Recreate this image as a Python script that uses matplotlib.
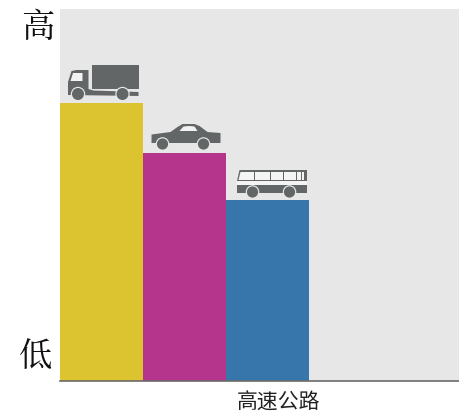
import matplotlib
matplotlib.use('Agg')
from matplotlib import pyplot as plt
from matplotlib.patches import Circle, Polygon, Rectangle
from matplotlib.transforms import Affine2D

plt.rcParams['font.family'] = ['Noto Sans CJK SC', 'DejaVu Sans']

vehicles = ['truck', 'car', 'bus']
levels = [278, 228, 181]
bar_colors = ['#dcc430', '#b6358c', '#3776ab']
x_label = '高速公路'
high_label = '高'
low_label = '低'

GREY = '#636667'
BG = '#e7e7e8'
W, H = 459, 412

fig = plt.figure(figsize=(W / 100, H / 100), dpi=100)
ax = fig.add_axes([60 / W, 1 - 381 / H, 399 / W, 372 / H])
ax.set_facecolor(BG)

positions = list(range(len(levels)))
ax.bar(positions, levels, width=1.0, color=bar_colors, zorder=2)
ax.set_xlim(-0.5, 4.307)
ax.set_ylim(0, 372)

for side in ['top', 'right', 'left']:
    ax.spines[side].set_visible(False)
ax.spines['bottom'].set_color('#6b6b6b')
ax.spines['bottom'].set_linewidth(1.2)
ax.set_yticks([])
ax.set_xticks([])

fig.text(278.5 / W, 1 - 402.5 / H, x_label, fontsize=15, color='#222222', ha='center', va='center')
fig.text(38 / W, 1 - 28 / H, high_label, fontsize=24, color='#111111', ha='center', va='center',
         family=['Noto Serif CJK SC', 'Noto Sans CJK SC', 'DejaVu Sans'])
fig.text(36 / W, 1 - 357 / H, low_label, fontsize=24, color='#111111', ha='center', va='center',
         family=['Noto Serif CJK SC', 'Noto Sans CJK SC', 'DejaVu Sans'])


# icon shapes are in pixels, relative to the top centre of their bar, y pointing down
def add_icon(shapes, x, y):
    ox, oy = ax.transData.transform((x, y))
    tr = Affine2D().scale(1, -1).translate(ox, oy)
    for s in shapes:
        s.set_transform(tr)
        s.set_zorder(3)
        s.set_linewidth(0)
        s.set_clip_on(False)
        ax.add_artist(s)


def truck():
    return [
        Rectangle((-10, -38.5), 47, 24.5, fc=GREY),
        Polygon([(-33.5, -8), (-33.5, -21), (-30, -32), (-25, -33), (-13, -33), (-13, -14), (-8, -12.5),
                 (37, -11), (37, -7), (-33.5, -8)], fc=GREY),
        Polygon([(-31, -22), (-28.5, -30), (-19, -30), (-19, -22)], fc='#f2f2f2'),
        Circle((-23.5, -9), 7.2, fc=BG),
        Circle((21, -9), 7.2, fc=BG),
        Circle((-23.5, -9), 6, fc=GREY),
        Circle((21, -9), 6, fc=GREY),
    ]


def car():
    return [
        Polygon([(-33, -10), (-33, -18.5), (-14, -21), (-7, -26), (-2, -29), (10, -29), (15, -27),
                 (23, -21), (36, -20), (36, -10)], fc=GREY),
        Polygon([(-5, -22), (-1, -26.5), (5, -27), (10, -26.5), (13, -22)], fc='#f2f2f2'),
        Circle((-22, -9), 6.8, fc=BG),
        Circle((19, -9), 6.8, fc=BG),
        Circle((-22, -9), 5.6, fc=GREY),
        Circle((19, -9), 5.6, fc=GREY),
    ]


def bus():
    shapes = [
        Polygon([(-30.5, -19), (-28, -30), (39.5, -30), (39.5, -19)], fc=GREY),
        Polygon([(-29, -20), (-27, -28), (38, -28), (38, -20)], fc='#f4f4f4'),
        Rectangle((-30.5, -19), 70, 3.5, fc='#f4f4f4'),
        Rectangle((-30.5, -15.5), 70, 8.5, fc=GREY),
        Circle((-15, -8), 6.8, fc=BG),
        Circle((22, -8), 6.8, fc=BG),
        Circle((-15, -8), 5.6, fc=GREY),
        Circle((22, -8), 5.6, fc=GREY),
    ]
    for px in [-14, 2, 15, 28, 33]:
        shapes.append(Rectangle((px, -28), 1.3, 9, fc=GREY))
    shapes.append(Rectangle((36, -28), 2, 9, fc=GREY))
    return shapes


icons = {'truck': truck, 'car': car, 'bus': bus}
for pos, name, level in zip(positions, vehicles, levels):
    add_icon(icons[name](), pos, level)

fig.savefig('out.png', dpi=100)
